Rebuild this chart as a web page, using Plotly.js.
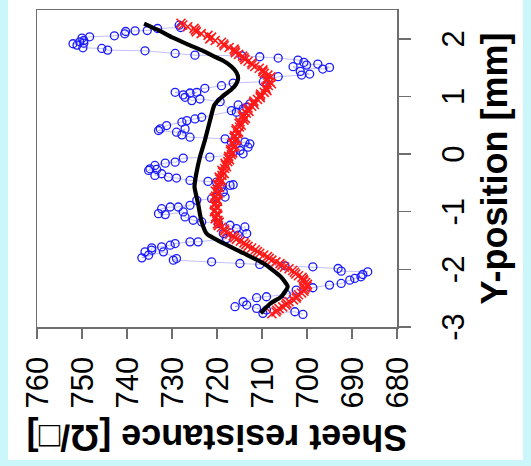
<!DOCTYPE html>
<html>
<head>
<meta charset="utf-8">
<script src="https://cdn.plot.ly/plotly-3.0.1.min.js"></script>
<style>
  html, body { margin: 0; padding: 0; }
  body { width: 531px; height: 466px; background: #ccf7fa; position: relative; overflow: hidden; }
  #paper { position: absolute; left: 8px; top: 0px; width: 515px; height: 460px; background: #ffffff; }
  #chart { position: absolute; left: 0; top: 0; width: 466px; height: 531px;
           transform-origin: 0 0; transform: translateY(466px) rotate(-90deg); }
</style>
</head>
<body>
<div id="paper"></div>
<div id="chart"></div>
<script>
// Blue series (individual measurements, connected in measurement order)
const bluePos = [2.236,2.196,2.179,2.144,2.138,2.127,2.087,2.052,2.035,2.012,1.971,1.948,1.914,1.891,1.925,1.844,
  1.833,1.804,1.792,1.746,1.717,1.706,1.689,1.666,1.631,1.591,1.544,1.562,1.504,1.475,1.516,1.435,1.389,1.371,
  1.343,1.256,1.233,1.187,1.141,1.072,1.026,1.060,1.072,0.985,0.928,0.956,0.910,
  0.754,0.853,0.812,0.870,0.726,0.783,
  0.639,0.610,0.581,0.553,0.495,0.437,0.409,0.380,0.437,0.334,0.293,
  0.264,0.207,0.178,0.207,0.178,0.120,0.062,0.034,0.005,
  -0.053,-0.070,-0.140,-0.157,-0.197,-0.255,-0.284,-0.266,-0.370,-0.341,-0.399,-0.416,-0.457,
  -0.474,-0.485,-0.572,-0.543,-0.532,-0.658,-0.745,-0.745,-0.774,
  -0.803,-0.889,-0.918,-0.918,-0.947,-1.033,-1.050,-1.004,-1.091,-1.148,-1.177,
  -1.206,-1.235,-1.293,-1.264,-1.379,-1.408,-1.379,-1.466,
  -1.523,-1.523,-1.552,-1.581,-1.610,-1.627,-1.667,-1.696,-1.754,-1.800,-1.696,-1.812,-1.840,
  -1.869,-1.898,-1.915,-1.938,-1.956,-1.985,-2.031,-2.042,-2.089,-2.129,-2.158,-2.187,-2.244,-2.273,
  -2.319,-2.360,-2.435,-2.475,-2.492,-2.562,-2.648,-2.619,-2.677,-2.706,-2.763,-2.735,-2.781];
const blueR = [728.4,728.1,733.2,735.5,738.2,740.3,740.5,742.8,748.3,750.0,749.6,750.5,752.0,751.1,749.6,749.8,
  745.6,744.3,736.0,729.3,724.9,714.5,710.5,706.4,702.0,700.7,700.1,697.6,695.0,696.5,703.1,701.5,699.4,701.2,
  706.4,709.7,716.4,719.0,722.7,729.3,727.5,726.0,724.5,727.1,725.6,723.8,719.3,
  716.8,715.3,713.4,712.7,715.7,714.2,
  723.4,724.9,726.7,727.8,731.2,732.6,733.0,729.0,727.1,727.8,726.0,
  718.2,716.8,715.7,713.8,712.7,713.1,714.9,716.4,714.2,
  721.6,727.5,729.3,731.5,733.8,734.9,735.2,733.4,733.8,732.3,730.8,729.0,726.0,
  722.0,720.1,719.0,717.1,716.4,718.6,720.1,718.2,721.2,
  724.5,726.0,728.6,730.4,732.3,733.0,731.5,727.5,727.1,725.3,723.4,
  719.7,717.1,715.7,713.8,713.4,715.3,718.6,717.9,
  724.2,726.0,729.3,730.4,732.3,734.5,734.5,736.0,735.2,736.7,731.9,729.0,729.7,
  721.2,714.9,710.5,704.9,698.7,693.1,692.4,686.5,687.6,688.0,689.4,690.5,692.4,695.0,
  698.7,702.4,704.6,709.0,711.2,714.2,716.0,713.4,711.2,709.0,709.8,702.7,700.9];

// Red series (two interleaved sampling sets)
const redPos = [2.27,2.21,2.15,2.09,2.03,1.97,1.91,1.85,1.79,1.73,1.67,1.61,1.55,1.49,1.43,1.37,1.31,1.25,1.19,1.13,
  1.07,1.01,0.95,0.89,0.83,0.77,0.71,0.65,0.59,0.53,0.47,0.41,0.35,0.29,0.23,0.17,0.11,0.05,-0.01,-0.07,
  -0.13,-0.19,-0.25,-0.31,-0.37,-0.43,-0.49,-0.55,-0.61,-0.67,-0.73,-0.79,-0.85,-0.91,-0.97,-1.03,-1.09,-1.15,-1.21,-1.27,
  -1.33,-1.39,-1.45,-1.51,-1.57,-1.63,-1.69,-1.75,-1.81,-1.87,-1.93,-1.99,-2.05,-2.11,-2.17,-2.23,-2.29,-2.35,-2.41,-2.47,
  -2.53,-2.59,-2.65,-2.71,-2.77];
const redR = [728.0,726.5,724.8,723.5,721.2,720.4,718.5,717.3,716.0,715.2,714.0,713.1,712.2,710.6,709.8,708.7,708.9,708.2,708.6,709.1,
  709.5,710.4,711.0,711.9,712.3,713.2,713.5,714.3,714.0,715.1,715.0,715.8,715.4,716.2,715.9,716.5,716.2,717.0,716.8,717.5,
  717.6,718.1,718.3,718.8,718.9,719.4,719.3,719.8,720.0,719.7,720.3,720.0,720.4,720.1,720.5,720.0,720.3,719.8,719.9,719.0,
  718.3,717.2,716.1,714.8,713.6,712.3,711.0,709.6,708.4,706.9,705.6,704.0,702.8,701.9,700.8,700.3,700.0,700.6,701.2,702.3,
  703.0,704.5,705.4,706.7,707.8];
const redPos2 = [2.24,2.18,2.12,2.06,2.00,1.94,1.88,1.82,1.76,1.70,1.64,1.58,1.52,1.46,1.40,1.34,1.28,1.22,1.16,1.10,
  1.04,0.98,0.92,0.86,0.80,0.74,0.68,0.62,0.56,0.50,0.44,0.38,0.32,0.26,0.20,0.14,0.08,0.02,-0.04,-0.10,
  -0.16,-0.22,-0.28,-0.34,-0.40,-0.46,-0.52,-0.58,-0.64,-0.70,-0.76,-0.82,-0.88,-0.94,-1.00,-1.06,-1.12,-1.18,-1.24,-1.30,
  -1.36,-1.42,-1.48,-1.54,-1.60,-1.66,-1.72,-1.78,-1.84,-1.90,-1.96,-2.02,-2.08,-2.14,-2.20,-2.26,-2.32,-2.38,-2.44,-2.50,
  -2.56,-2.62,-2.68,-2.74];
const redR2 = [727.6,725.1,724.6,722.0,721.6,719.0,718.4,716.2,715.9,714.3,713.8,712.3,711.6,709.8,709.5,708.0,708.9,707.9,709.2,708.9,
  710.3,710.4,711.8,711.7,713.1,712.9,714.2,713.7,714.9,714.6,715.7,715.2,716.1,715.6,716.6,716.0,717.0,716.5,717.4,717.2,
  718.2,717.9,718.9,718.4,719.5,718.9,719.9,719.5,720.4,719.8,720.6,719.9,720.6,719.9,720.6,719.8,720.4,719.5,719.7,718.4,
  718.0,716.4,715.7,714.0,713.1,711.5,710.5,708.8,707.8,706.0,705.0,703.2,702.5,701.1,700.7,699.9,700.4,700.7,701.9,702.4,
  704.0,704.7,706.2,706.9];

// Black smooth curve
const blackPos = [2.265,2.15,2.02,1.90,1.79,1.70,1.62,1.52,1.42,1.32,1.22,1.12,1.00,0.85,0.60,0.235,-0.054,-0.34,-0.57,-0.86,
  -1.15,-1.38,-1.52,-1.72,-1.90,-2.13,-2.30,-2.48,-2.59,-2.76];
const blackR = [736.2,733.0,729.8,726.4,723.1,720.8,718.6,716.8,715.7,715.3,715.7,716.8,718.8,720.6,721.5,722.7,723.8,724.6,725.0,724.2,
  723.5,722.3,719.3,714.1,709.6,705.8,704.3,705.8,708.1,710.3];

const posTicks = [-3,-2,-1,0,1,2];
const resTicks = [680,690,700,710,720,730,740,750,760];

const font = "Liberation Sans, Arial, Helvetica, sans-serif";
const axColor = "#6e6e6e";

const traces = [
  { x: bluePos, y: blueR, type: "scatter", mode: "lines+markers",
    line: { color: "rgba(60,60,255,0.4)", width: 0.8 },
    marker: { symbol: "circle-open", size: 8, color: "#1a1aff", line: { width: 1.3, color: "#1a1aff" } },
    showlegend: false, hoverinfo: "skip" },
  { x: redPos.concat(redPos2), y: redR.concat(redR2), type: "scatter", mode: "markers",
    marker: { symbol: "x-thin-open", size: 9, color: "#ff1a1a", line: { width: 1.6, color: "#ff1a1a" } },
    showlegend: false, hoverinfo: "skip" },
  { x: blackPos, y: blackR, type: "scatter", mode: "lines",
    line: { color: "#000000", width: 4.2, shape: "spline", smoothing: 0.5 },
    showlegend: false, hoverinfo: "skip" }
];

const layout = {
  width: 466, height: 531,
  margin: { l: 139, r: 10, t: 37, b: 134 },
  paper_bgcolor: "rgba(0,0,0,0)",
  plot_bgcolor: "#ffffff",
  font: { family: font, color: "#000000" },
  xaxis: {
    range: [-3, 2.5], tickmode: "array", tickvals: posTicks, ticktext: posTicks.map(String),
    showgrid: false, zeroline: false, showline: true, mirror: true,
    linecolor: axColor, linewidth: 1.5,
    ticks: "outside", ticklen: 12, tickwidth: 1.5, tickcolor: axColor,
    tickfont: { size: 31, family: font, color: "#000" }, ticklabelstandoff: 16,
    title: { text: "<b>Y-position [mm]</b>", font: { size: 36, family: font, color: "#000" }, standoff: 12 }
  },
  yaxis: {
    range: [680, 760], tickmode: "array", tickvals: resTicks, ticktext: resTicks.map(String),
    showgrid: false, zeroline: false, showline: true, mirror: true,
    linecolor: axColor, linewidth: 1.5,
    ticks: "outside", ticklen: 10, tickwidth: 1.5, tickcolor: axColor,
    tickfont: { size: 31, family: font, color: "#000" }, ticklabelstandoff: 12,
    title: { text: "<b>Sheet resistance [Ω/□]</b>", font: { size: 36, family: font, color: "#000" }, standoff: 5 }
  }
};

Plotly.newPlot("chart", traces, layout, { staticPlot: true, displayModeBar: false });
</script>
</body>
</html>
